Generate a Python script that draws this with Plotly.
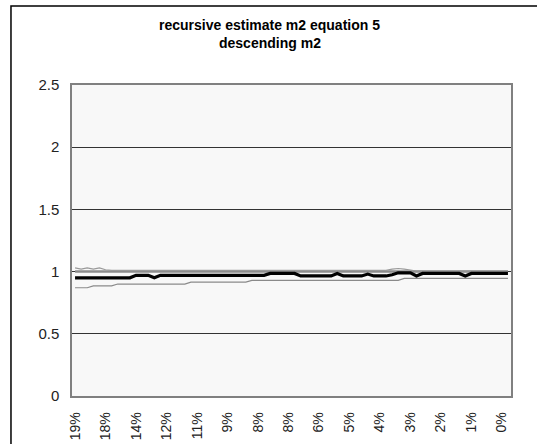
import plotly.graph_objects as go

# tick labels shown on the category axis (every 5th category)
tick_labels = ["19%", "18%", "14%", "12%", "11%", "9%", "8%", "8%",
               "6%", "5%", "4%", "3%", "2%", "1%", "0%"]
tick_step = 5

# recursive estimate of m2 (thick black line), 72 categories
estimate = ([0.95] * 10 + [0.97] * 3 + [0.95] + [0.97] * 18 + [0.985] * 5 +
            [0.965] * 6 + [0.985] + [0.965] * 4 + [0.98] + [0.965] * 3 +
            [0.975] + [0.99] * 3 + [0.965] + [0.985] * 7 + [0.965] + [0.985] * 7)

# upper band (thin grey)
upper = ([1.03, 1.02, 1.03, 1.02, 1.03, 1.015] + [1.01] * 46 +
         [1.02, 1.025, 1.02, 1.01] + [1.005] * 16)

# lower band (thin grey)
lower = ([0.87] * 3 + [0.885] * 4 + [0.90] * 12 + [0.915] * 10 +
         [0.93] * 25 + [0.945] * 18)

# reference value
true_m2 = [1.0] * 72

x = list(range(len(estimate)))

fig = go.Figure()
fig.add_trace(go.Scatter(x=x, y=true_m2, mode="lines",
                         line=dict(color="#8c8c8c", width=2.5), hoverinfo="skip"))
fig.add_trace(go.Scatter(x=x, y=upper, mode="lines",
                         line=dict(color="#9a9a9a", width=1.2)))
fig.add_trace(go.Scatter(x=x, y=lower, mode="lines",
                         line=dict(color="#8a8a8a", width=1.2)))
fig.add_trace(go.Scatter(x=x, y=estimate, mode="lines",
                         line=dict(color="#000000", width=3.2)))

font = "Liberation Sans, Arial, sans-serif"

fig.update_layout(
    width=537, height=444,
    margin=dict(l=72, r=26, t=85, b=48),
    paper_bgcolor="white",
    plot_bgcolor="#f8f8f8",
    showlegend=False,
    font=dict(family=font, size=15, color="#222"),
    xaxis=dict(
        range=[-0.5, len(x) - 0.5],
        tickmode="array",
        tickvals=[i * tick_step for i in range(len(tick_labels))],
        ticktext=tick_labels,
        tickangle=-90,
        showgrid=False,
        zeroline=False,
        showline=True, linecolor="#808080", linewidth=1.5, mirror=True,
        ticks="", ticklen=0,
        ticklabelstandoff=9,
        automargin=False,
        tickfont=dict(size=14, color="#222"),
    ),
    yaxis=dict(
        range=[0, 2.5],
        dtick=0.5,
        showgrid=True, gridcolor="#333333", gridwidth=1,
        zeroline=False,
        showline=True, linecolor="#808080", linewidth=1.5, mirror=True,
        ticks="", ticklen=0,
        ticklabelstandoff=8,
        automargin=False,
        tickfont=dict(size=15, color="#222"),
    ),
    annotations=[
        dict(text="<b>recursive estimate m2 equation 5</b>", xref="paper", yref="paper",
             x=0.451, y=1.193, showarrow=False, xanchor="center", yanchor="middle",
             font=dict(family=font, size=14, color="#000")),
        dict(text="<b>descending m2</b>", xref="paper", yref="paper",
             x=0.451, y=1.135, showarrow=False, xanchor="center", yanchor="middle",
             font=dict(family=font, size=14, color="#000")),
    ],
    shapes=[
        dict(type="rect", xref="paper", yref="paper",
             x0=-0.139, x1=1.2, y0=-0.3, y1=1.254,
             line=dict(color="#000", width=1.5), fillcolor="rgba(0,0,0,0)",
             layer="below"),
    ],
)

# drop the browser's default body margin so the figure sits at the page corner
fig.write_html("out.html", config={"displayModeBar": False},
               post_script="document.body.style.margin='0';")
